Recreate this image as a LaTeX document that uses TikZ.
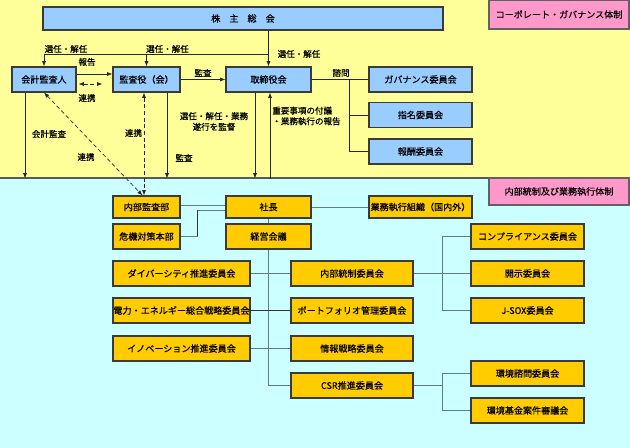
\documentclass[tikz,border=0pt]{standalone}
\usepackage{fontspec}
\setmainfont{Noto Sans CJK JP}[FakeBold=0.5]
\usetikzlibrary{arrows.meta,calc}

\definecolor{bgyel}{HTML}{FFFF99}
\definecolor{bgcyan}{HTML}{CCFFFF}
\definecolor{blufill}{HTML}{99CCFF}
\definecolor{goldfill}{HTML}{FFCC00}
\definecolor{pinkfill}{HTML}{FF99CC}
\definecolor{boxline}{HTML}{3A3A3A}
\definecolor{greyline}{HTML}{5F7F7F}

\tikzset{every picture/.style={line width=0.5pt}}

\begin{document}
\begin{tikzpicture}[x=0.75pt,y=0.75pt,yscale=-1,xscale=1,
  sz/.style 2 args={minimum width=#1*0.75pt,minimum height=#2*0.75pt},
  blubox/.style={draw=boxline,fill=blufill,line width=0.8pt,inner sep=0pt,font=\fontsize{6.8}{8}\selectfont},
  goldbox/.style={draw=boxline,fill=goldfill,line width=0.8pt,inner sep=0pt,font=\fontsize{6.8}{8}\selectfont},
  pinkbox/.style={draw=boxline!80,fill=pinkfill,line width=0.9pt,inner sep=0pt,font=\fontsize{6.8}{8}\selectfont},
  lbl/.style={inner sep=0.75pt,font=\fontsize{6.4}{8}\selectfont},
  arr/.style={draw=black!85,-{Latex[length=4pt,width=3pt]}},
  darr/.style={draw=black!85,densely dashed,{Latex[length=4pt,width=3pt]}-{Latex[length=4pt,width=3pt]}},
  gline/.style={draw=greyline,line width=0.7pt}]
    \useasboundingbox (0,0) rectangle (630,448);

    %Shape: Rectangle [id:bg_top] 
    \fill [bgyel] (0,0) rectangle (630,178);
    %Shape: Rectangle [id:bg_bottom] 
    \fill [bgcyan] (0,178) rectangle (630,448);
    \draw [line width=1.2pt,draw=black!65] (0,178) -- (630,178);

    % Text Node
    \node [pinkbox,sz={140}{29}] (corp) at (559,14.5) {コーポレート・ガバナンス体制};
    % Text Node
    \node [pinkbox,sz={140}{27}] (intl) at (559,191.5) {内部統制及び業務執行体制};

    %--- governance boxes
    \node [blubox,sz={400}{23}] (sh) at (243,18.5) {株　主　総　会};
    \node [blubox,sz={64}{25}] (kaikei) at (44,79.5) {会計監査人};
    \node [blubox,sz={67}{25}] (kansa) at (146.5,79.5) {監査役（会）};
    \node [blubox,sz={85}{25}] (tori) at (268.5,79.5) {取締役会};
    \node [blubox,sz={103}{25}] (gov) at (420.5,79.5) {ガバナンス委員会};
    \node [blubox,sz={103}{25}] (shimei) at (420.5,115) {指名委員会};
    \node [blubox,sz={103}{25}] (hoshu) at (420.5,151.5) {報酬委員会};

    %--- execution boxes
    \node [goldbox,sz={67}{22}] (naibu) at (146.5,207) {内部監査部};
    \node [goldbox,sz={67}{25}] (kiki) at (146.5,236.5) {危機対策本部};
    \node [goldbox,sz={85}{22}] (shacho) at (268.5,207) {社長};
    \node [goldbox,sz={85}{25}] (keiei) at (268.5,236.5) {経営会議};
    \node [goldbox,sz={103}{22}] (gyomu) at (420.5,207) {業務執行組織（国内外）};

    \node [goldbox,sz={137}{25}] (div) at (181.5,273.5) {ダイバーシティ推進委員会};
    \node [goldbox,sz={137}{25}] (ene) at (181.5,310.5) {電力・エネルギー総合戦略委員会};
    \node [goldbox,sz={137}{25}] (ino) at (181.5,348.5) {イノベーション推進委員会};

    \node [goldbox,sz={122}{25}] (ict) at (352,273.5) {内部統制委員会};
    \node [goldbox,sz={122}{25}] (pf) at (352,310.5) {ポートフォリオ管理委員会};
    \node [goldbox,sz={122}{25}] (joho) at (352,348.5) {情報戦略委員会};
    \node [goldbox,sz={122}{25}] (csr) at (352,385.5) {CSR推進委員会};

    \node [goldbox,sz={113}{25}] (comp) at (527.5,236.5) {コンプライアンス委員会};
    \node [goldbox,sz={113}{25}] (kaiji) at (527.5,273.5) {開示委員会};
    \node [goldbox,sz={113}{25}] (jsox) at (527.5,310.5) {J-SOX委員会};
    \node [goldbox,sz={113}{25}] (kankyo) at (527.5,373.5) {環境諮問委員会};
    \node [goldbox,sz={113}{25}] (kikin) at (527.5,410.5) {環境基金案件審議会};

    %--- top connectors
    \coordinate (sel) at (tori.north |- 0,54);
    \draw [arr] (sh.south -| tori.north) -- (tori.north);
    \draw [arr] (sel) -| (kaikei.north);
    \draw [arr] (kansa.north |- sel) -- (kansa.north);
    \draw [arr] ($(kaikei.east)+(0,-5.5)$) -- ($(kansa.west)+(0,-5.5)$);
    \draw [darr] ($(kaikei.east)+(2,4.5)$) -- ($(kansa.west)+(-10,4.5)$);
    \draw [arr] (kansa.east) -- (tori.west);
    \coordinate (shimon) at ($(tori.east)+(37.5,0)$);
    \draw [draw=black!85] (tori.east) -- (gov.west);
    \draw [draw=black!85] (shimon) |- (hoshu.west);
    \draw [draw=black!85] (shimon |- shimei.west) -- (shimei.west);

    %--- down to the execution side
    \draw [arr] ($(kaikei.south)+(-19,0)$) -- ++(0,86);
    \draw [darr] (kaikei.south) -- ($(naibu.north)+(-4,0)$);
    \draw [darr] ($(kansa.south)+(-2.5,0)$) -- ($(naibu.north)+(-2.5,0)$);
    \draw [arr] ($(kansa.south)+(20.5,0)$) -- ++(0,86);
    \draw [arr] ($(tori.south)+(-13.5,0)$) -- ++(0,86);
    \draw [arr] ($(tori.south)+(1.5,86)$) -- ($(tori.south)+(1.5,0)$);

    %--- execution connectors
    \draw [gline] (naibu.east |- 0,205) -- (shacho.west |- 0,205);
    \draw [gline] (kiki.east) -- ++(17,0);
    \draw [line width=0.9pt,draw=black!80] ($(kiki.east)+(17,0)$) -- ($(kiki.east)+(17,-26.5)$);
    \draw [gline] ($(kiki.east)+(17,-26.5)$) -- ($(shacho.west)+(0,3)$);
    \draw [gline] (shacho.east) -- (gyomu.west);
    \draw [gline] (shacho.south) -- (keiei.north);
    \draw [gline] (keiei.south) |- (csr.west);
    \draw [gline] (div.east) -- (ict.west);
    \draw [line width=0.7pt,draw=black!80] (ene.east) -- (pf.west);
    \draw [gline] (ino.east) -- (joho.west);
    \coordinate (jct) at ($(ict.east)!0.5!(kaiji.west)$);
    \draw [gline] (ict.east) -- (kaiji.west);
    \draw [gline] (comp.west) -| (jct) |- (jsox.west);
    \coordinate (jct2) at ($(csr.east)!0.5!(kankyo.west |- csr.east)$);
    \draw [gline] (csr.east) -- (jct2);
    \draw [gline] (kankyo.west) -| (jct2) |- (kikin.west);

    % Text Node
    \node [lbl] (l1) at (66,49) {選任・解任};
    \node [lbl] (l2) at (167.5,49) {選任・解任};
    \node [lbl] (l3) at (299,54) {選任・解任};
    \node [lbl] (l4) at (87,62) {報告};
    \node [lbl] (l5) at (87,98) {連携};
    \node [lbl] (l6) at (203,73) {監査};
    \node [lbl] (l7) at (341,73) {諮問};
    \node [lbl] (l8) at (49,134) {会計監査};
    \node [lbl] (l9) at (133.5,133) {連携};
    \node [lbl] (l10) at (86,157) {連携};
    \node [lbl] (l11) at (184,158) {監査};
    \node [lbl,align=center] (l12) at (214,121.5) {選任・解任・業務\\遂行を監督};
    \node [lbl,align=left,anchor=west] (l13) at (271,116) {重要事項の付議\\・業務執行の報告};
\end{tikzpicture}
\end{document}
